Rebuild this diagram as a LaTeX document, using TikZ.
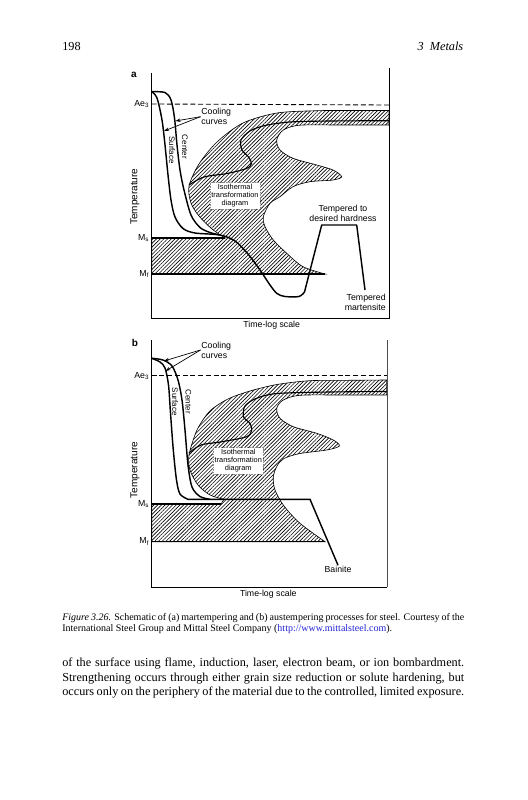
\documentclass[tikz,border=0pt]{standalone}
\usepackage{fontspec}
\setmainfont{Liberation Serif}
\setsansfont{Liberation Sans}
\usetikzlibrary{arrows.meta,patterns.meta}
\definecolor{linkblue}{RGB}{35,35,215}

\begin{document}
\begin{tikzpicture}[x=0.8pt, y=-0.8pt,
    lbl/.style={font=\sffamily\fontsize{7}{8}\selectfont, inner sep=0.5pt, align=center},
    itd/.style={font=\sffamily\fontsize{5.9}{6.6}\selectfont, inner sep=1.2pt, align=center,
                fill=white, draw=black!45, densely dotted, line width=0.3pt},
    ax/.style={line width=0.8pt},
    hatch/.style={pattern={Lines[angle=45,distance=2.1pt,line width=0.5pt]}, draw, line width=0.5pt},
    trans/.style={line width=0.9pt},
    cool/.style={line width=1.15pt, line join=round},
    aeline/.style={line width=0.7pt, dash pattern=on 4pt off 2.2pt},
    ptr/.style={line width=0.55pt, -{Stealth[length=4pt,width=2.8pt]}},
    body/.style={font=\fontsize{9.8}{12}\selectfont, anchor=base west, inner sep=0pt},
    capt/.style={font=\fontsize{8}{9.5}\selectfont, anchor=base west, inner sep=0pt}
]
\fill[white] (0,0) rectangle (527,800);
\useasboundingbox (0,0) rectangle (527,800);

% Running head
\node[body] (hdrPage) at (62,50.7) {198};
\node[body, anchor=base east] (hdrChap) at (463.5,50.7) {\textit{3\hspace{0.5em}Metals}};

% ---------------- (a) martempering ----------------
% Isothermal transformation region
\path[hatch] plot[smooth] coordinates {(389,110.5) (350,110.5) (317,110.7) (277,113) (243,123) (217,142) (199,164) (189,186) (191,203) (199,216) (212,229) (225,238)}
    -- (151.7,238) -- (151.7,274) -- (325,274)
    -- plot[smooth] coordinates {(325,274) (303,266.7) (286.7,253.3) (273.3,240) (265,226.7) (263.3,216.7) (270,203.3) (280,196.7) (293,186.7) (310,181.7) (333,180) (341.7,176.7) (333,170) (316.7,165) (293,158.3) (280,150) (276.7,140) (283.3,130) (300,125.2) (340,125) (389,125)}
    -- cycle;
\draw[trans] plot[smooth] coordinates {(389,120.7) (330,121) (290,122) (265,125.5) (250,131) (241,140) (242,150) (248.5,157) (251.5,163.5) (246.5,168.5) (227,173.5) (204,177) (189,185)};
\node[itd] (itdA) at (235,195.7) {Isothermal\\transformation\\diagram};

% Frame and levels
\draw[ax] (151.7,73) -- (151.7,318) -- (389,318) -- (389,68);
\draw[aeline] (151.7,104) -- (389,105);
\draw[cool] (151.7,238) -- (225,238);
\draw[cool] (151.7,274) -- (325,274);

% Cooling curves
\draw[cool] plot[smooth] coordinates {(151.7,91.7) (157,98) (162,120) (165,145) (168,175) (171,200) (175,217) (183,228.5) (195,233) (220,235) (235,241) (248,254) (260,270) (270,285) (277,293.5) (285,296.5) (299,296.5) (304.5,292)}
    -- (321.7,225) -- (356.7,225) -- (365,290);
\draw[cool] plot[smooth] coordinates {(151.7,91.7) (165,92.5) (171,100) (174.5,118) (177,145) (180,170) (184,190) (191,215) (200,227.5) (210,232.5) (220,235)};

% Labels
\node[lbl, font=\sffamily\bfseries\fontsize{8}{9}\selectfont] (labA) at (134,75) {a};
\node[lbl, anchor=east] (aeA) at (150,104) {Ae\textsubscript{3}};
\node[lbl, anchor=east] (msA) at (150,238) {M\textsubscript{s}};
\node[lbl, anchor=east] (mfA) at (150,274) {M\textsubscript{f}};
\node[lbl, font=\sffamily\fontsize{8}{9}\selectfont, rotate=90] (tempA) at (135,196.7) {Temperature};
\node[lbl] (timeA) at (271.7,325) {Time-log scale};
\node[lbl, anchor=west, align=left] (coolA) at (200.5,116.7) {Cooling\\curves};
\node[lbl, font=\sffamily\fontsize{6.4}{7}\selectfont, rotate=-90] (surfA) at (172,150) {Surface};
\node[lbl, font=\sffamily\fontsize{6.4}{7}\selectfont, rotate=-90] (centA) at (185,147) {Center};
\node[lbl] (hardA) at (343,213.5) {Tempered to\\desired hardness};
\node[lbl, anchor=east, align=right] (martA) at (386.5,302.8) {Tempered\\martensite};
\coordinate (caS) at (164,131);
\coordinate (caC) at (175.5,121);
\draw[ptr] (coolA.west) -- (caS);
\draw[ptr] (coolA.west) -- (caC);

% ---------------- (b) austempering ----------------
% Isothermal transformation region
\path[hatch] plot[smooth] coordinates {(386.7,380) (350,380.3) (310,380.7) (277,384.5) (250,391) (228,399) (210,411) (197,430) (189,455) (190,470) (198,485) (210,495) (224,499.3)}
    -- (221,504) -- (151.7,504) -- (151.7,541.7) -- (325,541.7)
    -- plot[smooth] coordinates {(325,541.7) (300,523.3) (284,506) (275,490) (273.3,477) (277,466) (284,458.5) (300,453.5) (326.7,450) (339.3,446) (333.3,440) (316.7,433.3) (293.3,426.7) (280,418.3) (276.7,408.3) (283.3,400) (300,395.3) (340,395) (386.7,395)}
    -- cycle;
\draw[trans] plot[smooth] coordinates {(386.7,391.5) (330,392) (277,393.5) (256,398.5) (245,406) (243.5,416.7) (250,423.5) (251.7,430) (246.7,436.7) (222,441.7) (201,445) (189,453)};
\node[itd] (itdB) at (238.3,460.7) {Isothermal\\transformation\\diagram};

% Frame and levels
\draw[ax] (151.7,340) -- (151.7,587.3) -- (387,587.3);
\draw[line width=0.5pt, black!70] (387,587.3) -- (387,340);
\draw[aeline] (151.7,375.7) -- (387,375.7);
\draw[cool] (151.7,504) -- (221,504);
\draw[cool] (151.7,541.7) -- (325,541.7);

% Labels
\node[lbl, font=\sffamily\bfseries\fontsize{8}{9}\selectfont] (labB) at (135,342.7) {b};
\node[lbl, anchor=east] (aeB) at (150,375.7) {Ae\textsubscript{3}};
\node[lbl, anchor=east] (msB) at (150,504) {M\textsubscript{s}};
\node[lbl, anchor=east] (mfB) at (150,541.7) {M\textsubscript{f}};
\node[lbl, font=\sffamily\fontsize{8}{9}\selectfont, rotate=90] (tempB) at (135,470) {Temperature};
\node[lbl] (timeB) at (268.3,594) {Time-log scale};
\node[lbl, anchor=west, align=left] (coolB) at (200.5,350) {Cooling\\curves};
\node[lbl, font=\sffamily\fontsize{6.4}{7}\selectfont, rotate=-90] (surfB) at (175,401.7) {Surface};
\node[lbl, font=\sffamily\fontsize{6.4}{7}\selectfont, rotate=-90] (centB) at (188.3,401.7) {Center};
\node[lbl] (bainB) at (338,569.3) {Bainite};

% Cooling curves
\draw[cool] plot[smooth] coordinates {(151.7,358.3) (160,362) (165,368) (168.5,385) (170.5,413) (173.3,450) (176.5,480) (180,494) (188,499.3)}
    -- (310,499.3) -- (bainB.north);
\draw[cool] plot[smooth] coordinates {(151.7,358.3) (163,360) (172,366) (178,380) (182,400) (185,430) (188,465) (192,487) (200,496.5) (210,499.3)};
\coordinate (cbC) at (164,361);
\coordinate (cbS) at (165.5,371);
\draw[ptr] (coolB.west) -- (cbC);
\draw[ptr] (coolB.west) -- (cbS);

% Caption
\node[capt] (cap1) at (62,620) {\makebox[321.6pt][s]{\textit{Figure 3.26.} Schematic of (a) martempering and (b) austempering processes for steel. Courtesy of the}};
\node[capt] (cap2) at (62,631.7) {International Steel Group and Mittal Steel Company (\textcolor{linkblue}{http://www.mittalsteel.com}).};

% Running text
\node[body] (body1) at (62,666.7) {\makebox[321.6pt][s]{of the surface using flame, induction, laser, electron beam, or ion bombardment.}};
\node[body] (body2) at (62,681) {\makebox[321.6pt][s]{Strengthening occurs through either grain size reduction or solute hardening, but}};
\node[body] (body3) at (62,695.3) {\makebox[321.6pt][s]{occurs only on the periphery of the material due to the controlled, limited exposure.}};
\end{tikzpicture}
\end{document}
